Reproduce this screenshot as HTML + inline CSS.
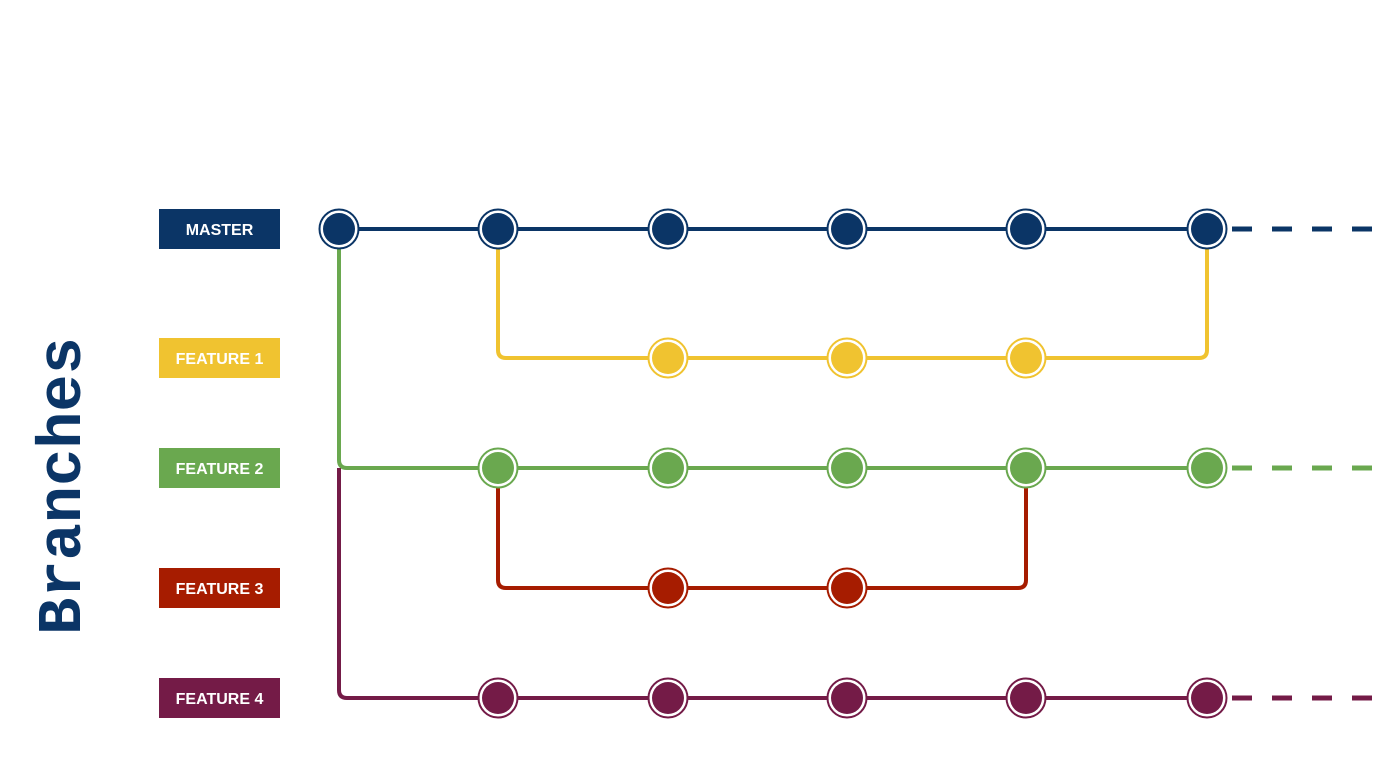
<!DOCTYPE html>
<html><head><meta charset="utf-8"><style>
html,body{margin:0;padding:0;background:#fff;}
svg{display:block}
</style></head><body>
<svg id="chart" width="1400" height="777" viewBox="0 0 1400 777" xmlns="http://www.w3.org/2000/svg">
<text transform="translate(80,486) rotate(-90)" text-anchor="middle" font-family="'Liberation Mono',monospace" font-weight="bold" font-size="62" fill="#0b3566">Branches</text>
<g id="links"></g><g id="labels"></g><g id="nodes"></g>
</svg>
<script>
const colX = [339, 498, 668, 847, 1026, 1207];
const branchNames = ["MASTER", "FEATURE 1", "FEATURE 2", "FEATURE 3", "FEATURE 4"];
const branchColors = ["#0b3566", "#f0c330", "#6aa84f", "#a61c00", "#741b47"];
const rowY = [229, 358, 468, 588, 698];
const commits = [[0,1,2,3,4,5],[2,3,4],[1,2,3,4,5],[2,3],[1,2,3,4,5]];
const continues = [true,false,true,false,true];
// [branch, fromParentRow, forkCol, mergeCol or -1]
const forks = [[1,0,1,5],[2,0,0,-1],[3,2,1,4],[4,2,0,-1]];
const NS="http://www.w3.org/2000/svg";
function mk(tag,attrs,parent){const e=document.createElementNS(NS,tag);for(const k in attrs)e.setAttribute(k,attrs[k]);parent.appendChild(e);return e;}
const links=document.getElementById('links'),labels=document.getElementById('labels'),nodes=document.getElementById('nodes');
const r=8;
forks.forEach(f=>{
  const [b,p,fc,mc]=f;const x0=colX[fc],y0=rowY[p],y1=rowY[b];
  let d=`M${x0},${y0} V${y1-r} Q${x0},${y1} ${x0+r},${y1}`;
  if(mc>=0){const x1=colX[mc];d+=` H${x1-r} Q${x1},${y1} ${x1},${y1-r} V${y0}`;}
  else{d+=` H${colX[commits[b][commits[b].length-1]]}`;}
  const pth=mk('path',{d:d,fill:'none',stroke:branchColors[b],'stroke-width':4},links);
  
  
});
branchNames.forEach((n,i)=>{
  const y=rowY[i];const c=commits[i];
  if(i===0){const l=mk('line',{x1:colX[c[0]],y1:y,x2:colX[c[c.length-1]],y2:y,stroke:branchColors[i],'stroke-width':4},links);
    
    }
  if(continues[i]){const dl=mk('line',{x1:colX[c[c.length-1]]+25,y1:y,x2:1372,y2:y,stroke:branchColors[i],'stroke-width':5,'stroke-dasharray':'20,20'},links);
    
    }
  const g=mk('g',{},labels);
  
  
  mk('rect',{x:159,y:y-20,width:121,height:40,fill:branchColors[i]},g);
  const t=mk('text',{x:219.5,y:y+6,'text-anchor':'middle','font-family':"'Liberation Sans',sans-serif",'font-weight':'bold','font-size':16,fill:'#fff'},g);
  t.textContent=n;
  c.forEach(ci=>{
    const cg=mk('g',{},nodes);
    
    
    mk('circle',{cx:colX[ci],cy:y,r:19.5,fill:'#fff',stroke:branchColors[i],'stroke-width':2},cg);
    mk('circle',{cx:colX[ci],cy:y,r:16,fill:branchColors[i]},cg);
  });
});
</script>
</body></html>
